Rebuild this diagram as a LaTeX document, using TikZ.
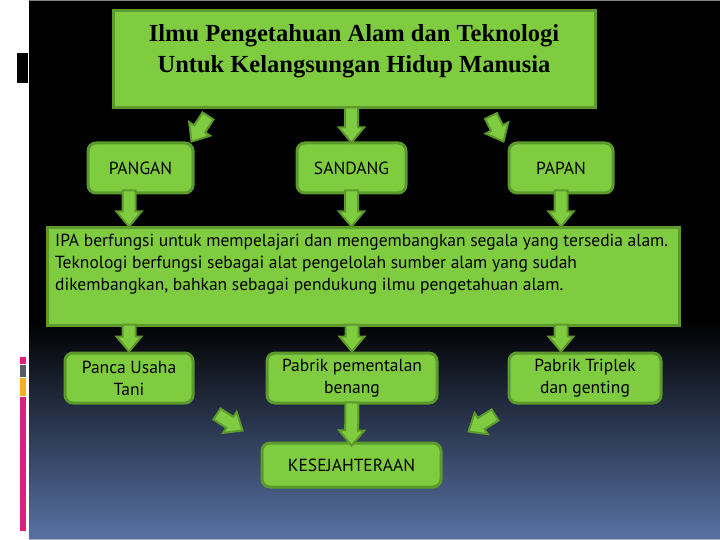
\documentclass[tikz,border=0pt]{standalone}
\usepackage{fontspec}
\setmainfont{PT Sans}
\newfontfamily\titlefont{Liberation Serif}
\usetikzlibrary{calc}

\definecolor{boxgreen}{RGB}{128,204,64}
\definecolor{edgegreen}{RGB}{92,154,44}
\definecolor{deepblue}{RGB}{88,114,164}
\definecolor{barpink}{RGB}{224,30,126}
\definecolor{bargray}{RGB}{84,90,104}
\definecolor{barorange}{RGB}{244,176,30}

\tikzset{
  box/.style={draw=edgegreen, fill=boxgreen, line width=3pt, rounded corners=8pt,
    align=center, inner sep=0pt, font=\fontsize{17.5}{22}\selectfont},
  plainbox/.style={draw=edgegreen, fill=boxgreen, line width=3pt, inner sep=0pt},
  titletext/.style={align=center, inner sep=0pt, font=\titlefont\bfseries\fontsize{24.5}{31}\selectfont},
  infotext/.style={align=left, inner sep=0pt, font=\fontsize{17.5}{22}\selectfont},
  blockarrow/.style={draw=edgegreen, fill=boxgreen, line width=2pt, line join=miter,
    to path={
      ($(\tikztostart)!6.5pt!90:(\tikztotarget)$)
      -- ($($(\tikztotarget)!15pt!(\tikztostart)$)!6.5pt!90:(\tikztotarget)$)
      -- ($($(\tikztotarget)!15pt!(\tikztostart)$)!12.5pt!90:(\tikztotarget)$)
      -- (\tikztotarget)
      -- ($($(\tikztotarget)!15pt!(\tikztostart)$)!12.5pt!-90:(\tikztotarget)$)
      -- ($($(\tikztotarget)!15pt!(\tikztostart)$)!6.5pt!-90:(\tikztotarget)$)
      -- ($(\tikztostart)!6.5pt!-90:(\tikztotarget)$)
      -- cycle}}
}

\begin{document}
\begin{tikzpicture}[x=1pt, y=-1pt]
\useasboundingbox (0,0) rectangle (720,540);
% backdrop
\fill[white] (0,0) rectangle (720,540);
\fill[black] (29,0) rectangle (720,540);
\shade[top color=black, bottom color=deepblue] (29,320) rectangle (720,540);
\draw[gray, line width=1pt] (29,0.5) -- (720,0.5);
\draw[gray!60, line width=1pt] (29,539.5) -- (720,539.5);
\fill[black] (17,53) rectangle (28,83);
\fill[barpink] (20,357) rectangle (26,364);
\fill[bargray] (20,365) rectangle (26,377);
\fill[barorange] (20,378) rectangle (26,396);
\fill[barpink] (20,397) rectangle (26,531);

% boxes (placed first so the arrows can refer to them)
\node[plainbox, minimum width=482, minimum height=97] (title) at (354,59.5) {};
\node[titletext] (titletxt) at (354,51) {Ilmu Pengetahuan Alam dan Teknologi\\Untuk Kelangsungan Hidup Manusia};
\node[box, minimum width=105, minimum height=50] (pangan) at (140.5,168) {PANGAN};
\node[box, minimum width=109, minimum height=50] (sandang) at (351.5,168) {SANDANG};
\node[box, minimum width=104, minimum height=50] (papan) at (561,168) {PAPAN};
\node[plainbox, minimum width=632, minimum height=97] (info) at (363,276.5) {};
\node[infotext, anchor=north west] (infotxt) at (55,234) {IPA berfungsi untuk mempelajari dan mengembangkan segala yang tersedia alam.\\
  Teknologi berfungsi sebagai alat pengelolah sumber alam yang sudah\\
  dikembangkan, bahkan sebagai pendukung ilmu pengetahuan alam.};
\node[box, minimum width=128, minimum height=50] (tani) at (129,378) {Panca Usaha\\Tani};
\node[box, minimum width=170, minimum height=50] (benang) at (352,378) {Pabrik pementalan\\benang};
\node[box, minimum width=152, minimum height=50] (triplek) at (585,378) {Pabrik Triplek\\dan genting};
\node[box, minimum width=179, minimum height=44] (sejahtera) at (351.5,465) {KESEJAHTERAAN};

% free ends of the slanted arrows
\coordinate (topleft) at (208,116);
\coordinate (topright) at (491,116);
\coordinate (lowleft) at (217,414);
\coordinate (lowright) at (495,415);

\draw[blockarrow] (topleft) to ([xshift=-3]pangan.north east);
\draw[blockarrow] ([yshift=2]title.south -| sandang.north) to ([yshift=-1]sandang.north);
\draw[blockarrow] (topright) to ([xshift=-4]papan.north west);
\draw[blockarrow] ([yshift=4]pangan.south -| tani.north) to (tani.north |- info.north);
\draw[blockarrow] ([yshift=4]sandang.south) to (sandang.south |- info.north);
\draw[blockarrow] ([yshift=4]papan.south) to (papan.south |- info.north);
\draw[blockarrow] ([yshift=2]info.south -| tani.north) to (tani.north);
\draw[blockarrow] ([yshift=2]info.south -| benang.north) to (benang.north);
\draw[blockarrow] ([yshift=2]info.south -| papan.south) to (papan.south |- triplek.north);
\draw[blockarrow] ([yshift=2]benang.south) to ([yshift=-4]sejahtera.north);
\draw[blockarrow] (lowleft) to ([shift={(-18,-11)}]sejahtera.north west);
\draw[blockarrow] (lowright) to ([shift={(26,-10)}]sejahtera.north east);
\end{tikzpicture}
\end{document}
